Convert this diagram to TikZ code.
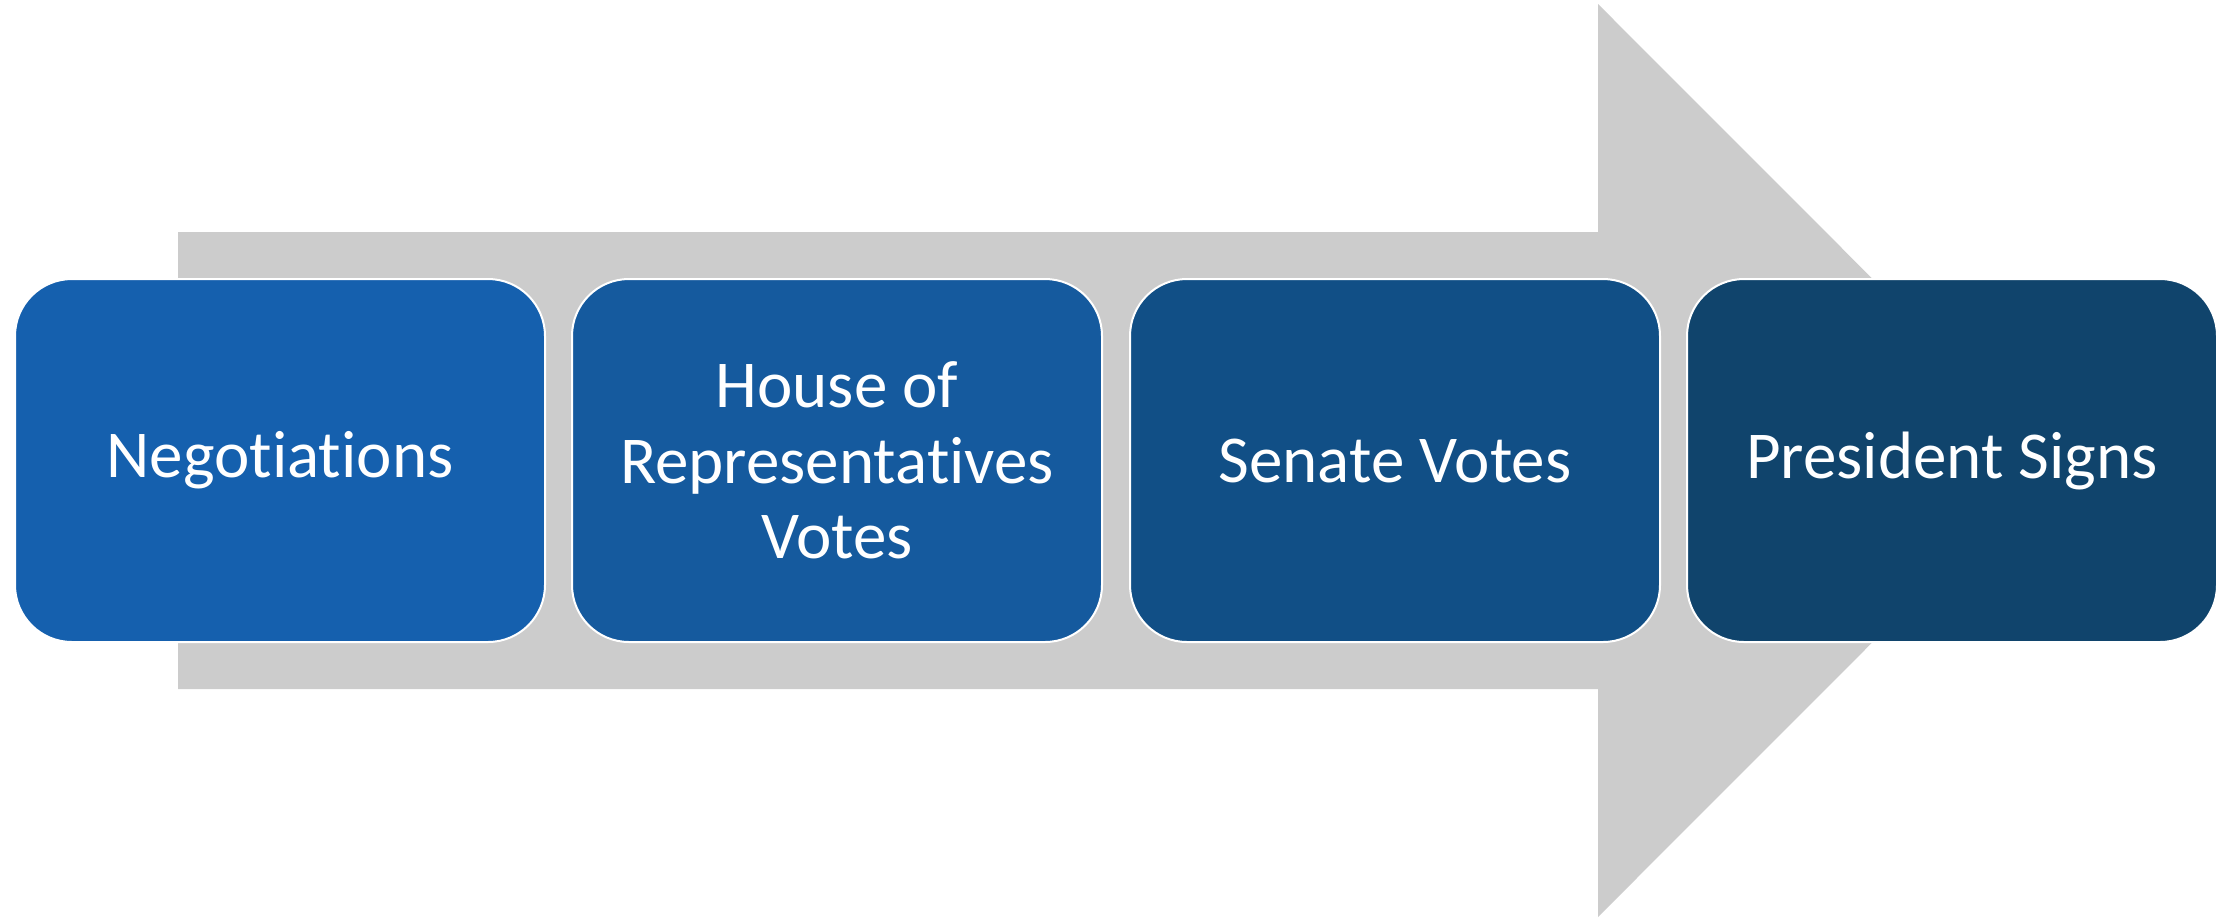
\documentclass[tikz,border=0pt]{standalone}
\usepackage{fontspec}
\setmainfont{Carlito}[Ligatures={NoCommon}]
\usepackage{tikz}
\definecolor{arrowgray}{RGB}{204,204,204}
\definecolor{stepA}{RGB}{21,96,174}
\definecolor{stepB}{RGB}{21,90,158}
\definecolor{stepC}{RGB}{17,79,134}
\definecolor{stepD}{RGB}{16,68,108}
\tikzset{stepbox/.style={draw=white, line width=1pt, rounded corners=28.5pt,
    minimum width=265pt, minimum height=181.5pt, text=white, align=center,
    font=\fontsize{33.5}{37.75}\selectfont}}

\begin{document}
\begin{tikzpicture}[x=0.5pt, y=-0.5pt]
\useasboundingbox (0,0) rectangle (2226,917);

% big gray arrow behind the steps
\fill[arrowgray] (178,232) -- (1598,232) -- (1598,4) -- (2054,460.5)
    -- (1598,917) -- (1598,689) -- (178,689) -- cycle;

\node[stepbox, fill=stepA] (1) at (280,460.5) {Negotiations};
\node[stepbox, fill=stepB] (2) at (837,460.5) {House of\\Representatives\\Votes};
\node[stepbox, fill=stepC] (3) at (1395,460.5) {Senate Votes};
\node[stepbox, fill=stepD] (4) at (1952,460.5) {President Signs};
\end{tikzpicture}
\end{document}
